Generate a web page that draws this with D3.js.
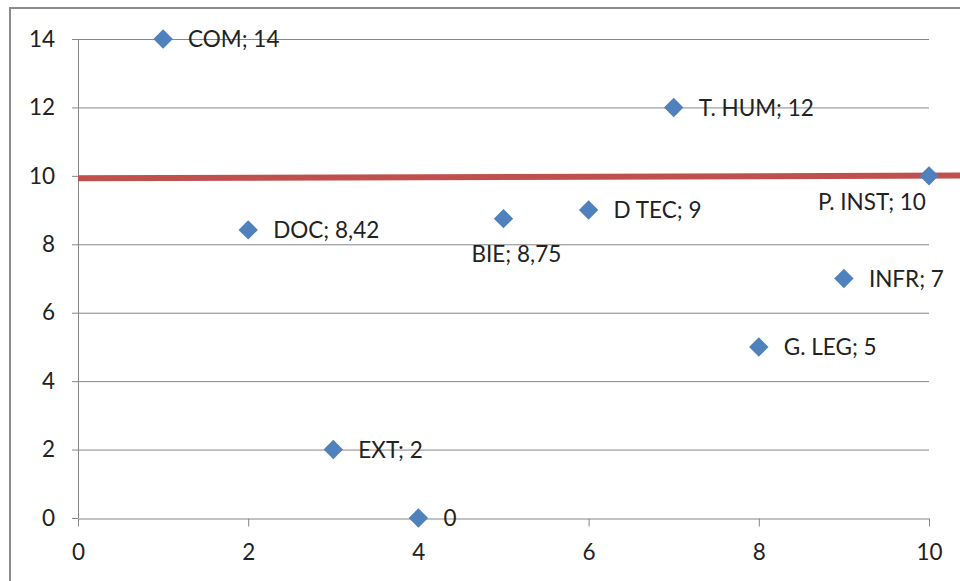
<!DOCTYPE html>
<html>
<head>
<meta charset="utf-8">
<script src="https://cdn.jsdelivr.net/npm/d3@7"></script>
<style>
  body { margin: 0; background: #fff; }
  svg { display: block; font-family: Lato, "Open Sans", sans-serif; }
</style>
</head>
<body>
<div id="chart"></div>
<script>
// point data
const names = ["COM", "DOC", "EXT", "", "BIE", "D TEC", "T. HUM", "G. LEG", "INFR", "P. INST"];
const xs = [1, 2, 3, 4, 5, 6, 7, 8, 9, 10];
const ys = [14, 8.42, 2, 0, 8.75, 9, 12, 5, 7, 10];
const valueText = ["14", "8,42", "2", "0", "8,75", "9", "12", "5", "7", "10"];

// reference line (red)
const refX = [0, 10.4];
const refY = [9.93, 10.01];

const xTicks = [0, 2, 4, 6, 8, 10];
const yTicks = [0, 2, 4, 6, 8, 10, 12, 14];

// label offsets (two labels were moved below their marker)
const labelOffset = { "BIE": [-32, 35], "P. INST": [-111, 26] };

const width = 960, height = 581;
const plot = { left: 78, right: 929, top: 39, bottom: 518 };
const fontSize = 22.5;

const x = d3.scaleLinear().domain([0, 10]).range([plot.left, plot.right]);
const y = d3.scaleLinear().domain([0, 14]).range([plot.bottom, plot.top]);

const svg = d3.select('#chart').append('svg')
  .attr('width', width)
  .attr('height', height);

// outer chart frame
svg.append('rect')
  .attr('x', 10).attr('y', 8)
  .attr('width', 1000).attr('height', 1000)
  .attr('fill', 'none')
  .attr('stroke', '#8c8c8c')
  .attr('stroke-width', 2);

// y axis + gridlines
const yAxis = svg.append('g')
  .attr('transform', 'translate(' + plot.left + ',0)')
  .call(d3.axisLeft(y).tickValues(yTicks).tickSize(6).tickPadding(17));
yAxis.select('.domain').remove();
yAxis.selectAll('line').attr('stroke', '#868686');
yAxis.selectAll('text').attr('font-size', fontSize).attr('fill', '#222').attr('font-family', 'Lato, sans-serif');

svg.append('g').selectAll('line')
  .data(yTicks.filter(d => d > 0))
  .enter().append('line')
  .attr('x1', plot.left).attr('x2', plot.right)
  .attr('y1', d => y(d) + 0.5).attr('y2', d => y(d) + 0.5)
  .attr('stroke', '#868686');

svg.append('line')
  .attr('x1', plot.left + 0.5).attr('x2', plot.left + 0.5)
  .attr('y1', plot.top).attr('y2', plot.bottom)
  .attr('stroke', '#868686');

// x axis
const xAxis = svg.append('g')
  .attr('transform', 'translate(0,' + (plot.bottom + 0.5) + ')')
  .call(d3.axisBottom(x).tickValues(xTicks).tickSize(8).tickPadding(18).tickSizeOuter(0));
xAxis.select('.domain').attr('stroke', '#868686');
xAxis.selectAll('line').attr('stroke', '#868686');
xAxis.selectAll('text').attr('font-size', fontSize).attr('fill', '#222').attr('font-family', 'Lato, sans-serif');

// red reference line
const refData = refX.map((v, i) => [v, refY[i]]);
svg.append('path')
  .datum(refData)
  .attr('d', d3.line().x(d => x(d[0])).y(d => y(d[1])))
  .attr('fill', 'none')
  .attr('stroke', '#C0504D')
  .attr('stroke-width', 6);

// points
const pts = names.map((n, i) => ({ name: n, x: xs[i], y: ys[i], v: valueText[i] }));

svg.append('g').selectAll('path')
  .data(pts)
  .enter().append('path')
  .attr('d', d3.symbol().type(d3.symbolDiamond2).size(240))
  .attr('transform', d => 'translate(' + x(d.x) + ',' + y(d.y) + ')')
  .attr('fill', '#4F81BD');

svg.append('g').selectAll('text')
  .data(pts)
  .enter().append('text')
  .attr('x', d => x(d.x) + (labelOffset[d.name] ? labelOffset[d.name][0] : 25))
  .attr('y', d => y(d.y) + (labelOffset[d.name] ? labelOffset[d.name][1] : 0))
  .attr('dy', '0.36em')
  .attr('font-size', fontSize)
  .attr('fill', '#222')
  .text(d => d.name ? d.name + '; ' + d.v : d.v);
</script>
</body>
</html>
